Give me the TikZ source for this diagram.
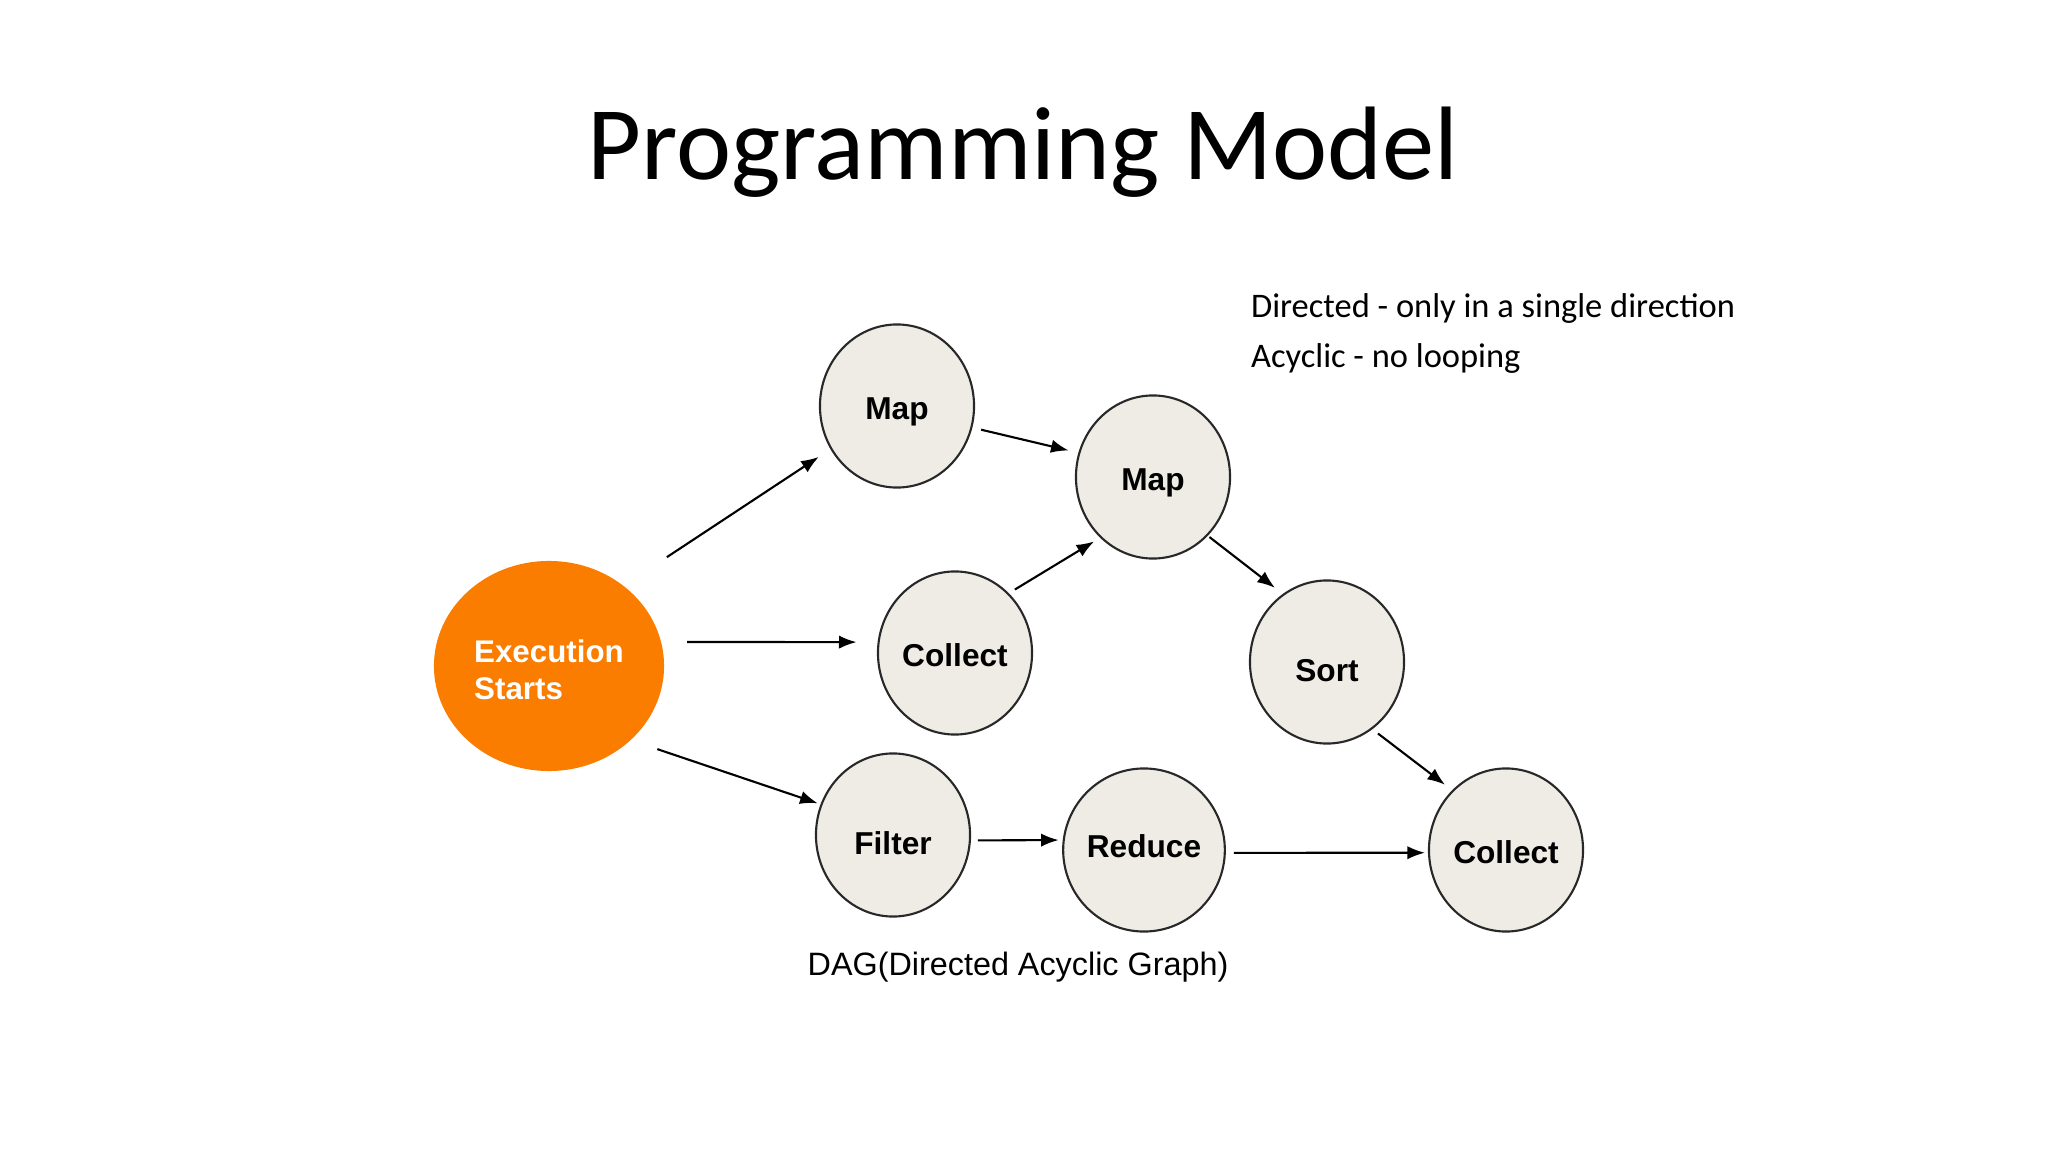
\documentclass[tikz,border=0pt]{standalone}
\usepackage{fontspec}
\setmainfont{Liberation Sans}
\newfontfamily\slidefont{Carlito}
\usepackage{xcolor}
\usepackage{tikz}
\usetikzlibrary{arrows.meta}
\usetikzlibrary{shapes.geometric}
\usetikzlibrary{positioning}

\definecolor{nodefill}{RGB}{238,236,229}
\definecolor{startorange}{RGB}{250,125,0}
\definecolor{rim}{RGB}{40,40,40}

\begin{document}
\begin{tikzpicture}[x=0.01cm,y=-0.01cm,auto,semithick]
 				 \tikzstyle{vert}=[draw=rim, ellipse, fill=nodefill, line width=0.6pt, minimum width=1.54cm, minimum height=1.63cm, inner sep=0pt, text height=7.4pt, text depth=0pt, font=\fontsize{9}{11}\selectfont\bfseries]
 				 \tikzstyle{start}=[ellipse, fill=startorange, text=white, minimum width=2.30cm, minimum height=2.10cm, inner sep=0pt, align=left, text height=19.2pt, text depth=0pt, font=\fontsize{8.9}{10.5}\selectfont\bfseries]
 				 \tikzstyle{arr}=[-{Latex[length=5pt,width=3.8pt]}, line width=0.6pt]
 				 \tikzstyle{note}=[anchor=base west, inner sep=0pt, font=\slidefont\fontsize{9.8}{12}\selectfont]
						\useasboundingbox (0,0) rectangle (2048,1152);

						\node[anchor=base, inner sep=0pt, font=\slidefont\fontsize{29.7}{34}\selectfont] (title) at (1023,180) {Programming Model};
						\node[note] (dir) at (1250,318) {Directed - only in a single direction};
						\node[note] (acy) at (1250,368) {Acyclic - no looping};

						\node[start] (exec) at (549,666) {Execution\\Starts};
						\node[vert] (map1) at (897,406) {Map};
						\node[vert] (map2) at (1153,477) {Map};
						\node[vert] (coll1) at (955,653) {Collect};
						\node[vert, text height=11pt] (sort) at (1327,662) {Sort};
						\node[vert, text height=11pt] (filter) at (893,835) {Filter};
						\node[vert, text height=4.4pt] (reduce) at (1144,850) {Reduce};
						\node[vert] (coll2) at (1506,850) {Collect};

						\node[inner sep=0pt, font=\fontsize{9.2}{11}\selectfont] (dag) at (1018,967) {DAG(Directed Acyclic Graph)};

						\path
							(exec.47) edge[arr, shorten <=0.51cm, shorten >=0.14cm] (map1.213)
							(exec.12) edge[arr, shorten <=0.25cm, shorten >=0.21cm] (coll1.172)
							(exec.318) edge[arr, shorten <=0.27cm, shorten >=0.03cm] (filter.157)
							(map1.344) edge[arr, shorten <=0.09cm, shorten >=0.10cm] (map2.162)
							(coll1.48) edge[arr, shorten <=0.07cm, shorten >=0.07cm] (map2.229)
							(map2.313) edge[arr, shorten <=0.02cm, shorten >=0.10cm] (sort.123)
							(sort.304) edge[arr, shorten <=0.07cm, shorten >=0.09cm] (coll2.132)
							(filter.356) edge[arr, shorten <=0.07cm, shorten >=0.04cm] (reduce.173)
							(reduce.358) edge[arr, shorten <=0.08cm, shorten >=0.03cm] (coll2.182);

 				\end{tikzpicture}
\end{document}
